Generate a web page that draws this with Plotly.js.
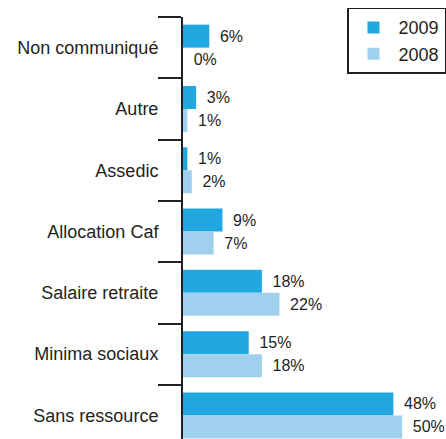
<!DOCTYPE html>
<html>
<head>
<meta charset="utf-8">
<script src="https://cdn.plot.ly/plotly-3.0.1.min.js"></script>
<style>html,body{margin:0;padding:0;background:#fff;}</style>
</head>
<body>
<div id="chart" style="width:446px;height:439px;"></div>
<script>
const categories = ["Non communiqué", "Autre", "Assedic", "Allocation Caf", "Salaire retraite", "Minima sociaux", "Sans ressource"];
const values2009 = [6, 3, 1, 9, 18, 15, 48];
const values2008 = [0, 1, 2, 7, 22, 18, 50];
const seriesNames = ["2009", "2008"];

const FONT = '"Liberation Sans", Arial, sans-serif';
const DARK = '#231f20';

const mk = (name, vals, color) => ({
  type: 'bar', orientation: 'h', name: name,
  y: categories, x: vals,
  marker: {color: color},
  text: vals.map(v => '\u00a0\u2009' + v + '%'),
  textposition: 'outside',
  cliponaxis: false,
  textfont: {family: FONT, size: 16, color: DARK},
  hoverinfo: 'skip'
});

const data = [
  mk(seriesNames[0], values2009, '#22a8e0'),
  mk(seriesNames[1], values2008, '#9fd0ee')
];

const layout = {
  width: 446, height: 439,
  margin: {l: 183, r: 0, t: 17, b: 0, pad: 0},
  paper_bgcolor: '#fff', plot_bgcolor: '#fff',
  barmode: 'group', bargap: 0.25, bargroupgap: 0,
  font: {family: FONT, color: DARK},
  xaxis: {range: [0, 60], visible: false, fixedrange: true},
  yaxis: {
    type: 'category', range: [6.384, -0.5],
    showline: true, linecolor: DARK, linewidth: 2,
    ticks: 'outside', tickson: 'boundaries', ticklen: 23, tickwidth: 2, tickcolor: DARK,
    ticklabelstandoff: 19,
    showgrid: false, zeroline: false,
    tickfont: {family: FONT, size: 18, color: DARK}
  },
  showlegend: true,
  legend: {
    x: 1, xanchor: 'right', y: 1.022, yanchor: 'top',
    bordercolor: DARK, borderwidth: 1.5, bgcolor: '#fff',
    font: {family: FONT, size: 18, color: DARK},
    itemwidth: 40,
    tracegroupgap: 0
  }
};

Plotly.newPlot('chart', data, layout, {displayModeBar: false, staticPlot: true});
</script>
</body>
</html>
